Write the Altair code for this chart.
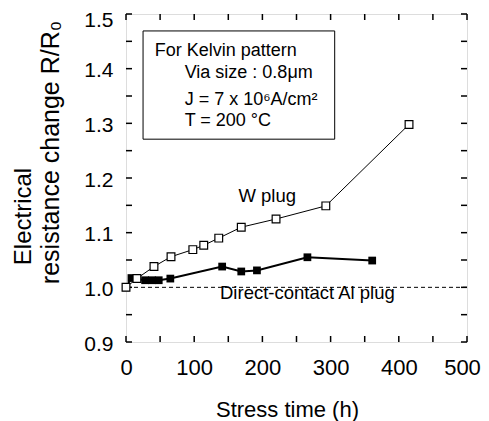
import altair as alt
import pandas as pd

# ---------------- data ----------------
w_time = [0, 16, 41, 66, 98, 114, 136, 169, 220, 293, 415]
w_ratio = [1.000, 1.016, 1.038, 1.056, 1.069, 1.077, 1.090, 1.110, 1.125, 1.149, 1.298]

al_time = [0, 8, 28, 38, 48, 65, 141, 169, 192, 266, 361]
al_ratio = [1.000, 1.017, 1.013, 1.013, 1.013, 1.016, 1.038, 1.029, 1.031, 1.055, 1.049]

reference_level = [1.0]

x_major = [0, 100, 200, 300, 400, 500]
y_major = [0.9, 1.0, 1.1, 1.2, 1.3, 1.4, 1.5]
x_minor = [0, 50, 100, 150, 200, 250, 300, 350, 400, 450, 500]
y_minor = [0.9, 0.95, 1.0, 1.05, 1.1, 1.15, 1.2, 1.25, 1.3, 1.35, 1.4, 1.45, 1.5]

x_title = "Stress time (h)"
y_title_top = "Electrical"
y_title_bottom = "resistance change R/R\u2080"

box_lines = ["For Kelvin pattern", "Via size :  0.8\u03bcm", "J = 7 x 10\u2076A/cm\u00b2", "T = 200 \u00b0C"]
series_labels = ["W plug", "Direct-contact Al plug"]

# annotation placement (data coordinates)
box_t = [25]
box_t2 = [306]
box_r = [1.271]
box_r2 = [1.469]
box_text_t = [42, 86, 86, 86]
box_text_r = [1.423, 1.383, 1.334, 1.295]
label_t = [207, 266]
label_r = [1.156, 0.979]

FONT = "Liberation Sans"

w_df = pd.DataFrame({"t": w_time, "r": w_ratio})
al_df = pd.DataFrame({"t": al_time, "r": al_ratio})
ref_df = pd.DataFrame({"r": reference_level})
box_df = pd.DataFrame({"t": box_t, "t2": box_t2, "r": box_r, "r2": box_r2})
box_text_df = pd.DataFrame({"t": box_text_t, "r": box_text_r, "txt": box_lines})
label_df = pd.DataFrame({"t": label_t, "r": label_r, "txt": series_labels})
xminor_df = pd.DataFrame({"t": x_minor})
yminor_df = pd.DataFrame({"r": y_minor})

xs = alt.Scale(domain=[0, 500], nice=False, zero=False)
ys = alt.Scale(domain=[0.9, 1.5], nice=False, zero=False)


def X(axis, field="t"):
    return alt.X(f"{field}:Q", scale=xs, axis=axis)


def Y(axis, field="r"):
    return alt.Y(f"{field}:Q", scale=ys, axis=axis)


label_x_axis = alt.Axis(
    orient="bottom", values=x_major, ticks=False, tickSize=0, domain=False, grid=False,
    labelFontSize=22, labelFont=FONT, labelColor="black", labelPadding=15, labelFlush=False,
    labelOffset={"condition": {"test": "datum.value == 500", "value": -5}, "value": 0},
    title=x_title, titleFont=FONT, titleFontSize=22, titleFontWeight="normal",
    titleColor="black", titleX=161, titleY=74, titleBaseline="alphabetic", titleAlign="center",
)
label_y_axis = alt.Axis(
    orient="left", values=y_major, format=".1f", ticks=False, tickSize=0, domain=False, grid=False,
    labelFontSize=21, labelFont=FONT, labelColor="black", labelPadding=13, labelFlush=False,
    labelOffset={"condition": {"test": "datum.value > 1.45", "value": 6}, "value": 2},
    title=y_title_bottom, titleFont=FONT, titleFontSize=25, titleFontWeight="normal",
    titleColor="black", titleX=-68, titleY=138, titleAngle=270,
    titleBaseline="alphabetic", titleAlign="center",
)
title2_y_axis = alt.Axis(
    orient="left", ticks=False, labels=False, domain=False, grid=False,
    title=y_title_top, titleFont=FONT, titleFontSize=24, titleFontWeight="normal",
    titleColor="black", titleX=-96, titleY=202, titleAngle=270,
    titleBaseline="alphabetic", titleAlign="center",
)

# inward ticks on all four sides, positioned through the scales
tick_style = dict(color="black", thickness=1.5, size=6, opacity=1)
ticks_bottom = alt.Chart(xminor_df).mark_tick(orient="vertical", yOffset=-3, **tick_style).encode(
    x=X(None), y=alt.YDatum(0.9, scale=ys, axis=None)
)
ticks_top = alt.Chart(xminor_df).mark_tick(orient="vertical", yOffset=3, **tick_style).encode(
    x=X(None), y=alt.YDatum(1.5, scale=ys, axis=None)
)
ticks_left = alt.Chart(yminor_df).mark_tick(orient="horizontal", xOffset=3, **tick_style).encode(
    y=Y(None), x=alt.XDatum(0, scale=xs, axis=None)
)
ticks_right = alt.Chart(yminor_df).mark_tick(orient="horizontal", xOffset=-3, **tick_style).encode(
    y=Y(None), x=alt.XDatum(500, scale=xs, axis=None)
)

ref_rule = alt.Chart(ref_df).mark_rule(
    color="black", strokeWidth=1, strokeDash=[4, 3]
).encode(y=Y(None))

w_line = alt.Chart(w_df).mark_line(color="black", strokeWidth=1).encode(
    x=X(label_x_axis), y=Y(label_y_axis)
)
al_line = alt.Chart(al_df).mark_line(color="black", strokeWidth=2).encode(
    x=X(None), y=Y(title2_y_axis)
)
al_pts = alt.Chart(al_df).mark_point(
    shape="square", filled=True, color="black", size=60, opacity=1
).encode(x=X(None), y=Y(None))
w_pts = alt.Chart(w_df).mark_point(
    shape="square", filled=True, fill="white", stroke="black", strokeWidth=1.2, size=60, opacity=1
).encode(x=X(None), y=Y(None))

box = alt.Chart(box_df).mark_rect(fill="white", stroke="black", strokeWidth=1).encode(
    x=X(None), x2="t2:Q", y=Y(None), y2="r2:Q"
)
box_text = alt.Chart(box_text_df).mark_text(
    align="left", baseline="alphabetic", font=FONT, fontSize=18, color="black"
).encode(x=X(None), y=Y(None), text="txt:N")
labels = alt.Chart(label_df).mark_text(
    align="center", baseline="alphabetic", font=FONT, fontSize=18.5, color="black"
).encode(x=X(None), y=Y(None), text="txt:N")

chart = alt.layer(
    ticks_bottom, ticks_top, ticks_left, ticks_right,
    ref_rule, w_line, al_line, al_pts, w_pts, box, box_text, labels
).resolve_axis(
    x="independent", y="independent"
).properties(
    width=341, height=328,
    padding={"left": 118, "top": 6, "right": 14, "bottom": 79},
    autosize=alt.AutoSizeParams(type="none"),
).configure_view(
    stroke="black", strokeWidth=2
).configure(font=FONT, background="white")

chart.save("out.html", embed_options={"renderer": "svg", "actions": False})
